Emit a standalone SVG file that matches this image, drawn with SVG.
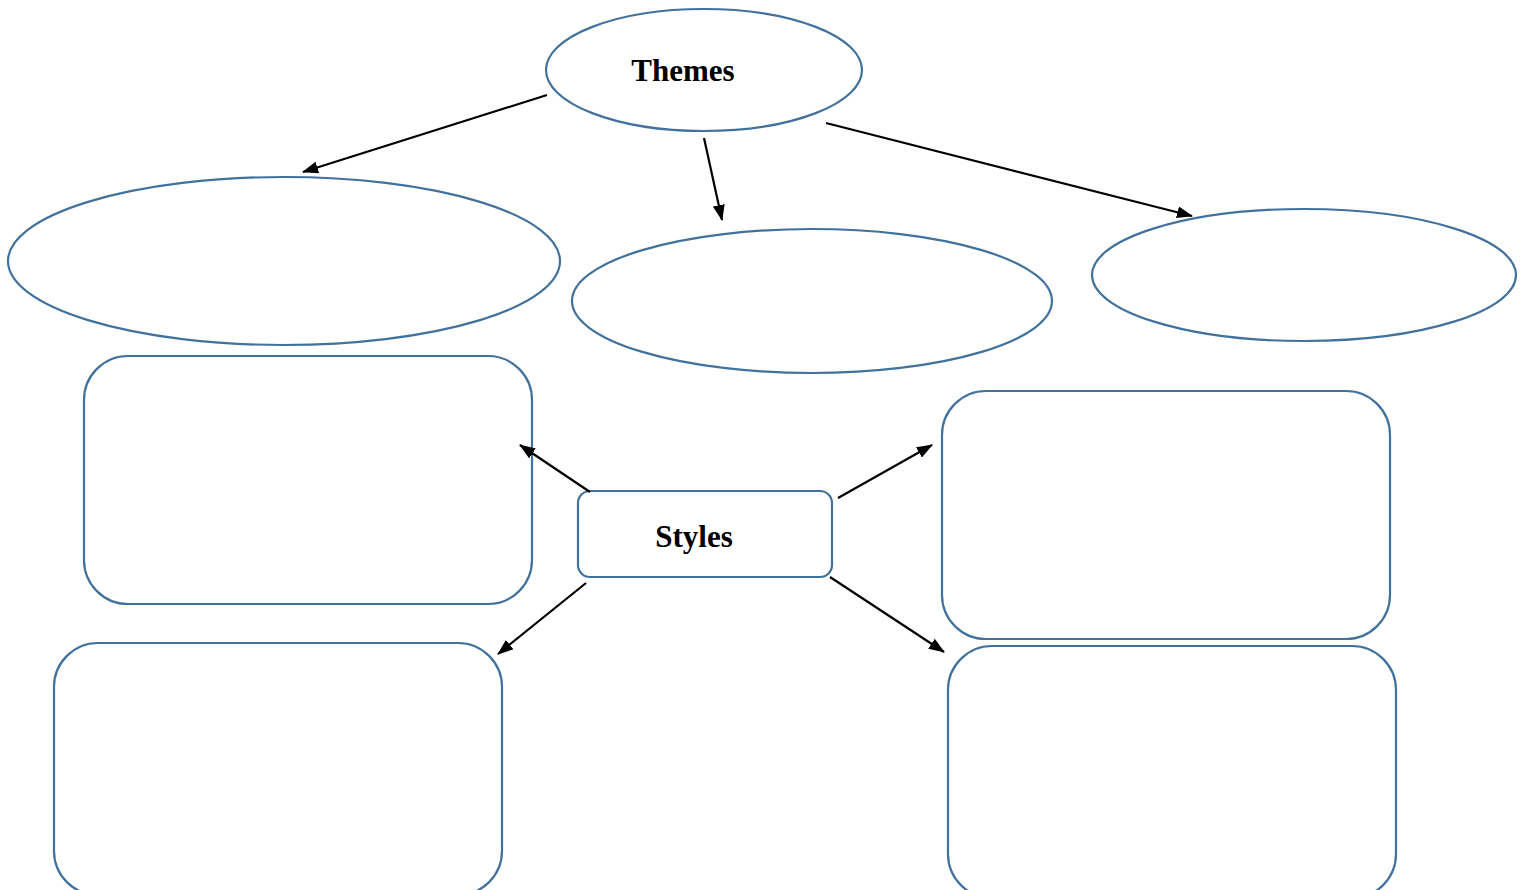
<svg xmlns="http://www.w3.org/2000/svg" width="1525" height="890" viewBox="0 0 1525 890">
<style>
.n{fill:#fff;stroke:#41719c;stroke-width:2.2}
.c{stroke:#000;stroke-width:2.2;fill:none;marker-end:url(#ah)}
.t{font-family:"Liberation Serif",serif;font-weight:bold;font-size:31px;fill:#000;text-anchor:middle}
</style>
<defs>
<marker id="ah" viewBox="0 0 16 12" refX="15" refY="6" markerWidth="16" markerHeight="12" markerUnits="userSpaceOnUse" orient="auto">
<path d="M0,0 L16,6 L0,12 z" fill="#000"/>
</marker>
</defs>
<rect width="1525" height="890" fill="#fff"/>
<g id="themes"><ellipse class="n" cx="704" cy="70" rx="158" ry="61"/><text class="t" x="683" y="81">Themes</text></g>
<g id="theme1"><ellipse class="n" cx="284" cy="261" rx="276" ry="84"/></g>
<g id="theme2"><ellipse class="n" cx="812" cy="301" rx="240" ry="72"/></g>
<g id="theme3"><ellipse class="n" cx="1304" cy="275" rx="212" ry="66"/></g>
<g id="style1"><rect class="n" x="84" y="356" width="448" height="248" rx="44"/></g>
<g id="styles"><rect class="n" x="578" y="491" width="254" height="86" rx="12"/><text class="t" x="694" y="547">Styles</text></g>
<g id="style2"><rect class="n" x="942" y="391" width="448" height="248" rx="44"/></g>
<g id="style3"><rect class="n" x="54" y="643" width="448" height="252" rx="44"/></g>
<g id="style4"><rect class="n" x="948" y="646" width="448" height="252" rx="44"/></g>
<g id="connectors">
<line class="c" x1="547" y1="95" x2="303" y2="172"/>
<line class="c" x1="704" y1="138" x2="722" y2="220"/>
<line class="c" x1="826" y1="123" x2="1192" y2="216"/>
<line class="c" x1="590" y1="492" x2="520" y2="445"/>
<line class="c" x1="838" y1="498" x2="932" y2="445"/>
<line class="c" x1="586" y1="583" x2="498" y2="654"/>
<line class="c" x1="830" y1="577" x2="944" y2="652"/>
</g>
</svg>
